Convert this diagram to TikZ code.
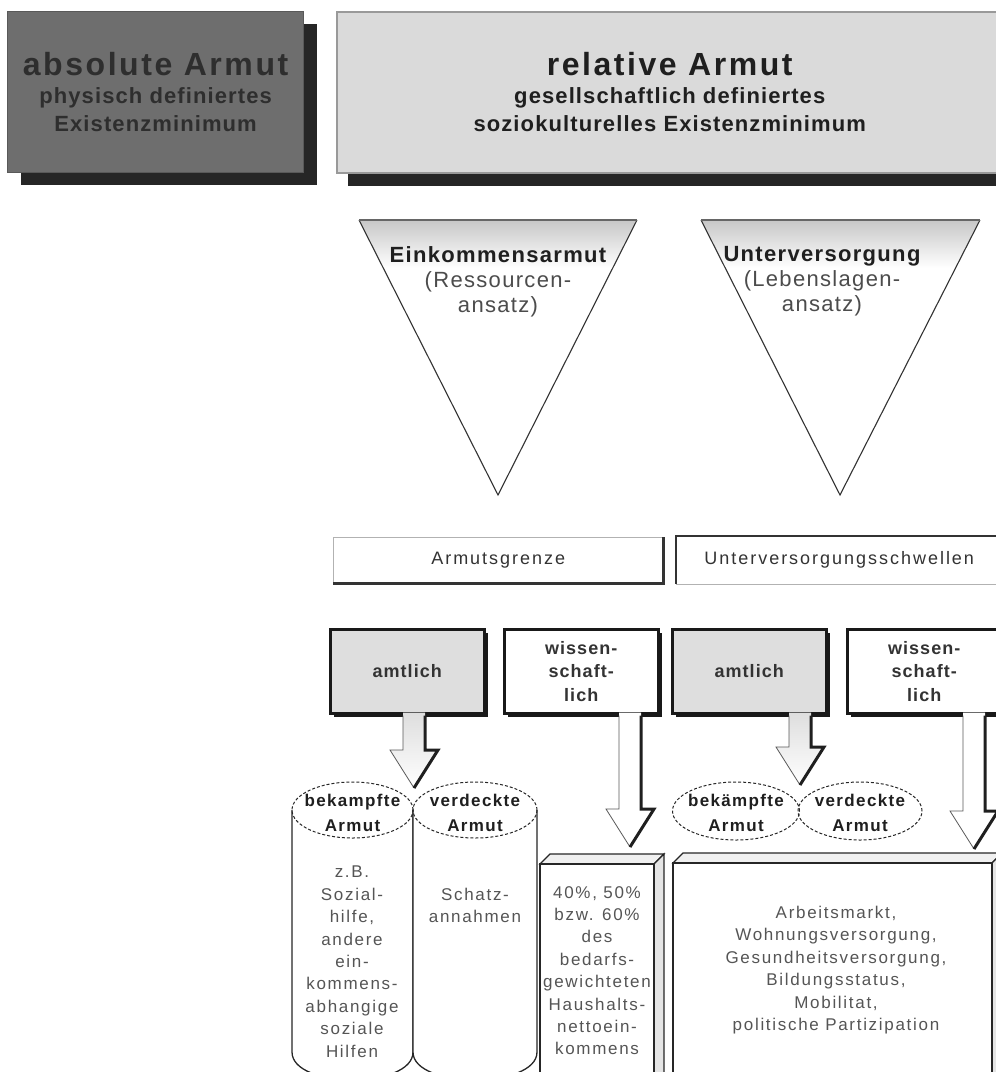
\documentclass[tikz,border=0pt]{standalone}
\usepackage{fontspec}
\setmainfont{Liberation Sans}
\usepackage{tikz}
\usetikzlibrary{calc, shadows, shapes.geometric}

\definecolor{absfill}{HTML}{6E6E6E}
\definecolor{relfill}{HTML}{DADADA}
\definecolor{shadowink}{HTML}{262626}
\definecolor{amtfill}{HTML}{DEDEDE}
\definecolor{softink}{HTML}{555555}
\newcommand{\spaced}[1]{\addfontfeature{LetterSpace=#1}}
\newcommand{\bigtitle}[1]{{\fontsize{32}{28}\selectfont\spaced{8}#1}}

\tikzset{
  topbox/.style={anchor=north west, inner sep=0pt, align=center, minimum height=161pt,
    font=\fontsize{22}{28}\selectfont\bfseries\spaced{5}},
  absbox/.style={topbox, fill=absfill, draw=black!65, line width=1.2pt, text=black!82,
    general shadow={fill=shadowink, shadow xshift=13pt, shadow yshift=-12pt}},
  relbox/.style={topbox, fill=relfill, draw=black!40, line width=1.5pt, text=black!88,
    general shadow={fill=shadowink, shadow xshift=11pt, shadow yshift=-13pt}},
  triline/.style={draw=black!80, line width=1.1pt, line join=miter},
  tritop/.style={draw=black!60, line width=2.4pt},
  tritext/.style={anchor=north, inner sep=0pt, align=center, text=black!70,
    font=\fontsize{22}{25}\selectfont\spaced{6}},
  schwelle/.style={anchor=north west, inner sep=0pt, fill=white, text=black!80,
    minimum height=46pt, font=\fontsize{18}{22}\selectfont\spaced{11}},
  liteedge/.style={draw=black!30, line width=1pt},
  darkedge/.style={draw=black!80, line width=2.4pt},
  rowbox/.style={anchor=north west, draw=black!90, line width=2.5pt, inner sep=0pt,
    minimum width=154pt, minimum height=84pt, align=center, text=black!80,
    font=\fontsize{18}{23.5}\selectfont\bfseries\spaced{6},
    general shadow={fill=black!90, shadow xshift=4pt, shadow yshift=-4pt}},
  amtbox/.style={rowbox, fill=amtfill},
  wisbox/.style={rowbox, fill=white},
  cyl/.style={draw=black!85, line width=1.3pt, fill=white},
  capsule/.style={ellipse, draw=black!85, line width=1pt, dash pattern=on 3pt off 2pt, inner sep=0pt},
  captext/.style={inner sep=0pt, align=center, text=black!88,
    font=\fontsize{17}{25}\selectfont\bfseries\spaced{8}},
  inktext/.style={anchor=north, inner sep=0pt, align=center, text=softink,
    font=\fontsize{17}{22.4}\selectfont\spaced{10}},
  faceline/.style={draw=black!85, line width=1.2pt, line join=miter},
  arrowlite/.style={draw=black!65, line width=0.8pt},
  arrowdark/.style={draw=black!88, line width=3pt, line join=miter},
}

% block arrow from a box down to a tip coordinate
\newcommand{\blockarrow}[3]{%
  \shade[top color=#3, bottom color=white] let \p1=(#2), \p2=(#1.south) in
    (\x1-11pt,\y2+2pt) -- (\x1-11pt,\y1+38pt) -- (\x1-24pt,\y1+38pt) -- (\x1,\y1)
    -- (\x1+24pt,\y1+38pt) -- (\x1+11pt,\y1+38pt) -- (\x1+11pt,\y2+2pt) -- cycle;
  \draw[arrowlite] let \p1=(#2), \p2=(#1.south) in
    (\x1-11pt,\y2-1pt) -- (\x1-11pt,\y1+38pt) -- (\x1-24pt,\y1+38pt) -- (\x1,\y1);
  \draw[arrowdark] let \p1=(#2), \p2=(#1.south) in
    (\x1,\y1) -- (\x1+24pt,\y1+38pt) -- (\x1+11pt,\y1+38pt) -- (\x1+11pt,\y2-1pt);
}
% box seen from the front, with top and right face
\newcommand{\cuboid}[4]{%
  \filldraw[faceline, fill=black!6] (#1,#2) -- ++(10,-10) -- ($(#3,#2)+(10,-10)$) -- (#3,#2) -- cycle;
  \filldraw[faceline, fill=black!10] (#3,#2) -- ++(10,-10) -- ($(#3,#4)+(10,-10)$) -- (#3,#4) -- cycle;
  \filldraw[faceline, fill=white] (#1,#2) rectangle (#3,#4);
}

\begin{document}
\begin{tikzpicture}[x=1pt, y=-1pt]
\useasboundingbox (0,0) rectangle (996,1072);
\clip (0,0) rectangle (996,1072);

% top row
\node[absbox, minimum width=296pt] (absArmut) at (7,11)
  {\bigtitle{absolute Armut}\\physisch definiertes\\Existenzminimum};
\node[relbox, minimum width=666pt] (relArmut) at (336,11)
  {\bigtitle{relative Armut}\\gesellschaftlich definiertes\\soziokulturelles Existenzminimum};

% triangles
\foreach \l/\r/\t in {359/637/498, 701/980/840}{
  \fill[white] (\l,220) -- (\r,220) -- (\t,495) -- cycle;
  \begin{scope}
    \clip (\l,220) -- (\r,220) -- (\t,495) -- cycle;
    \shade[top color=black!22, bottom color=white] (\l,220) rectangle (\r,268);
  \end{scope}
  \draw[triline] (\l,220) -- (\t,495) -- (\r,220);
  \draw[tritop] (\l,220) -- (\r,220);
}
\node[tritext] (einkommen) at (498,246)
  {{\bfseries\color{black!88}Einkommensarmut}\\(Ressourcen-\\ansatz)};
\node[tritext] (unterv) at (822,246)
  {{\bfseries\color{black!88}Unterversorgung}\\(Lebenslagen-\\ansatz)};

% thresholds
\node[schwelle, minimum width=330pt] (grenze) at (333,537) {Armutsgrenze};
\draw[liteedge] (grenze.south west) -- (grenze.north west) -- (grenze.north east);
\draw[darkedge] (grenze.north east) -- (grenze.south east) -- (grenze.south west);
\node[schwelle, minimum width=326pt, minimum height=48pt] (schwellen) at (676,536) {Unterversorgungsschwellen};
\draw[darkedge] (schwellen.north east) -- (schwellen.north west) -- (schwellen.south west);
\draw[liteedge] (schwellen.south west) -- (schwellen.south east);

% official / scientific
\node[amtbox] (amtEin) at (329,628) {amtlich};
\node[wisbox] (wisEin) at (503,628) {wissen-\\schaft-\\lich};
\node[amtbox] (amtUnt) at (671,628) {amtlich};
\node[wisbox] (wisUnt) at (846,628) {wissen-\\schaft-\\lich};

% cylinders
\draw[cyl] (292,810) -- (292,1052) .. controls (292,1089) and (413,1089) .. (413,1052) -- (413,810);
\draw[cyl] (413,810) -- (413,1052) .. controls (413,1089) and (537,1089) .. (537,1052) -- (537,810);
\node[capsule, minimum width=121pt, minimum height=56pt] (bekEin) at (352.5,810) {};
\node[capsule, minimum width=124pt, minimum height=56pt] (verEin) at (475,810) {};
\node[captext] (bekEinT) at (352.5,813) {bekampfte\\Armut};
\node[captext] (verEinT) at (475,813) {verdeckte\\Armut};
\node[inktext] (hilfeT) at (352,866)
  {z.B.\\Sozial-\\hilfe,\\andere\\ein-\\kommens-\\abhangige\\soziale\\Hilfen};
\node[inktext] (schatzT) at (475,888) {Schatz-\\annahmen};

% ellipses on the right
\node[capsule, minimum width=127pt, minimum height=58pt] (bekUnt) at (736,811) {};
\node[capsule, minimum width=124pt, minimum height=58pt] (verUnt) at (860,811) {};
\node[captext] (bekUntT) at (736,813) {bekämpfte\\Armut};
\node[captext] (verUntT) at (860,813) {verdeckte\\Armut};

% boxes at the bottom
\cuboid{540}{864}{654}{1090}
\node[inktext] (quoteT) at (597,886)
  {40\%, 50\%\\bzw. 60\%\\des\\bedarfs-\\gewichteten\\Haushalts-\\nettoein-\\kommens};
\cuboid{673}{863}{992}{1090}
\node[inktext] (lageT) at (836,906)
  {Arbeitsmarkt,\\Wohnungsversorgung,\\Gesundheitsversorgung,\\Bildungsstatus,\\Mobilitat,\\politische Partizipation};

% arrows
\coordinate (tipAmtEin) at (414,788);
\coordinate (tipWisEin) at (630,847);
\coordinate (tipAmtUnt) at (800,785);
\coordinate (tipWisUnt) at (974,849);
\blockarrow{amtEin}{tipAmtEin}{amtfill}
\blockarrow{wisEin}{tipWisEin}{white}
\blockarrow{amtUnt}{tipAmtUnt}{amtfill}
\blockarrow{wisUnt}{tipWisUnt}{white}
\end{tikzpicture}
\end{document}
